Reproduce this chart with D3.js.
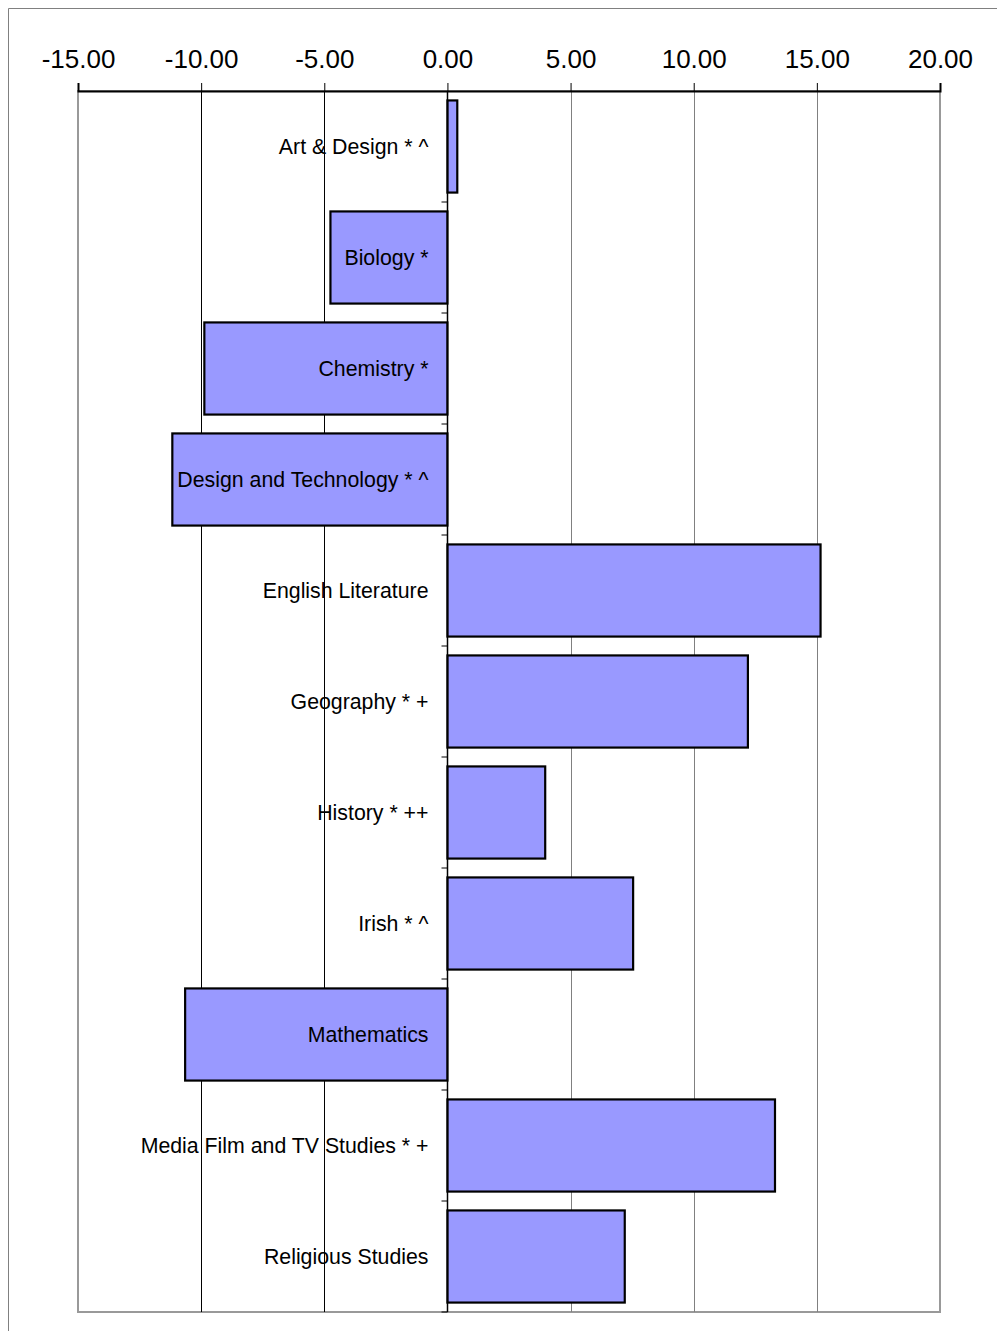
<!DOCTYPE html>
<html>
<head>
<meta charset="utf-8">
<title>Subject bar chart</title>
<style>
  body { margin: 0; background: #fff; }
  svg { display: block; font-family: "Liberation Sans", Arial, sans-serif; }
</style>
</head>
<body>
<svg id="chart" width="997" height="1331"></svg>
<script src="https://cdnjs.cloudflare.com/ajax/libs/d3/7.8.5/d3.min.js"></script>
<script>
// data
var subjects = ["Art & Design * ^", "Biology *", "Chemistry *", "Design and Technology * ^",
  "English Literature", "Geography * +", "History * ++", "Irish * ^", "Mathematics",
  "Media Film and TV Studies * +", "Religious Studies"];
var values = [0.4, -4.75, -9.87, -11.17, 15.15, 12.2, 3.97, 7.54, -10.65, 13.3, 7.2];
var tickValues = [-15, -10, -5, 0, 5, 10, 15, 20];

var svg = d3.select('#chart');
// plot area edges (note: "top" is taken by window.top, so use other names)
var plotLeft = 78, plotRight = 940, plotTop = 91, plotBottom = 1312;

var x = d3.scaleLinear().domain([-15, 20]).range([plotLeft, plotRight]);
var y = d3.scaleBand().domain(subjects).range([plotTop, plotBottom]).paddingInner(0.17).paddingOuter(0.085);
var yb = d3.scaleBand().domain(subjects).range([plotTop, plotBottom]);

// outer frame (only top and left visible)
svg.append('line').attr('x1', 8.5).attr('x2', 997).attr('y1', 8.5).attr('y2', 8.5).attr('stroke', '#808080');
svg.append('line').attr('x1', 8.5).attr('x2', 8.5).attr('y1', 8.5).attr('y2', 1331).attr('stroke', '#808080');

// plot area border
svg.append('rect').attr('x', plotLeft).attr('y', plotTop).attr('width', plotRight - plotLeft).attr('height', plotBottom - plotTop)
  .attr('fill', 'none').attr('stroke', '#999').attr('stroke-width', 2);

// gridlines
svg.append('g').selectAll('line').data(tickValues.filter(function (d) { return d > -15 && d < 20 && d !== 0; }))
  .join('line')
  .attr('x1', function (d) { return Math.round(x(d)) + 0.5; })
  .attr('x2', function (d) { return Math.round(x(d)) + 0.5; })
  .attr('y1', plotTop).attr('y2', plotBottom)
  .attr('stroke', function (d) { return d < 0 ? '#000' : '#808080'; });

// top axis, plain hyphen for negatives like the original
var fmt = d3.format('.2f');
var axis = d3.axisTop(x).tickValues(tickValues).tickSize(8).tickPadding(15)
  .tickFormat(function (d) { return fmt(d).replace('\u2212', '-'); });
var ag = svg.append('g').attr('transform', 'translate(0,' + plotTop + ')').call(axis);
ag.select('.domain').attr('stroke-width', 2);
ag.selectAll('.tick line').attr('stroke-width', 1);
ag.selectAll('.tick text').attr('font-size', 26).attr('fill', '#000')
  .attr('font-family', '"Liberation Sans", Arial, sans-serif');

// bars
svg.append('g').selectAll('rect').data(subjects).join('rect')
  .attr('x', function (d, i) { return x(Math.min(0, values[i])); })
  .attr('y', function (d) { return y(d); })
  .attr('width', function (d, i) { return Math.abs(x(values[i]) - x(0)); })
  .attr('height', y.bandwidth())
  .attr('fill', '#9999ff').attr('stroke', '#000').attr('stroke-width', 2.2);

// zero axis line with small ticks on category boundaries
var zx = Math.round(x(0)) + 0.5;
svg.append('line').attr('x1', zx).attr('x2', zx).attr('y1', plotTop).attr('y2', plotBottom)
  .attr('stroke', '#000').attr('stroke-width', 1.5);
svg.append('g').selectAll('line').data(subjects).join('line')
  .attr('x1', zx - 6).attr('x2', zx)
  .attr('y1', function (d) { return yb(d) + yb.bandwidth(); })
  .attr('y2', function (d) { return yb(d) + yb.bandwidth(); })
  .attr('stroke', '#000');

// category labels
svg.append('g').selectAll('text').data(subjects).join('text')
  .attr('x', zx - 19)
  .attr('y', function (d) { return yb(d) + yb.bandwidth() / 2; })
  .attr('dy', '0.35em')
  .attr('text-anchor', 'end')
  .attr('font-size', 21.3)
  .attr('fill', '#000')
  .text(function (d) { return d; });
</script>
</body>
</html>
